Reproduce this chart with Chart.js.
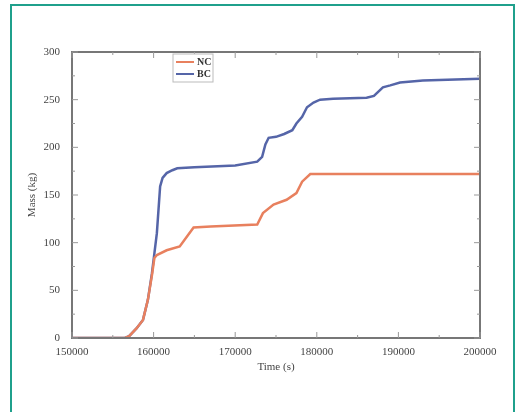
<!DOCTYPE html>
<html>
<head>
<meta charset="utf-8">
<script src="https://cdn.jsdelivr.net/npm/chart.js@4/dist/chart.umd.min.js"></script>
<style>
  html, body { margin: 0; padding: 0; background: #fff; }
  #frame {
    position: absolute; left: 10px; top: 4px; width: 505px; height: 420px;
    border: 2px solid #1fa08c; box-sizing: border-box;
  }
  #wrap { position: absolute; left: 0; top: 0; width: 523px; height: 412px; }
</style>
</head>
<body>
<div id="frame"></div>
<div id="wrap"><canvas id="chart" width="523" height="412"></canvas></div>
<script>
// time (s) and mass (kg)
const seriesNames = ['NC', 'BC'];

const bcTime = [150000, 156500, 157000, 157900, 158700, 159300, 159800, 160100, 160400, 160800, 161100, 161600, 162300, 162900, 165000, 170000, 172700, 173300, 173700, 174100, 175000, 176000, 177000, 177500, 178200, 178800, 179600, 180400, 182000, 186100, 187000, 188100, 189000, 190200, 193000, 196000, 200000];
const bcMass = [0, 0, 2, 10, 19, 40, 68, 89, 110, 159, 168, 173, 176, 178, 179, 181, 185, 190, 203, 210, 211, 214, 218, 225, 232, 242, 247, 250, 251, 252, 254, 263, 265, 268, 270, 271, 272];

const ncTime = [150000, 156500, 157000, 157900, 158700, 159300, 159800, 160100, 160400, 161600, 163200, 163800, 164900, 167000, 172700, 173400, 174700, 176300, 177500, 178200, 179200, 185000, 200000];
const ncMass = [0, 0, 2, 10, 19, 40, 66, 84, 87, 92, 96, 103, 116, 117, 119, 131, 140, 145, 152, 164, 172, 172, 172];

const xTicks = [150000, 160000, 170000, 180000, 190000, 200000];
const yTicks = [0, 50, 100, 150, 200, 250, 300];

const colors = ['#e8805e', '#5565a8'];

function pts(xs, ys) {
  return xs.map((x, i) => ({ x: x, y: ys[i] }));
}

// frame box, mirrored ticks and the legend box
const framePlugin = {
  id: 'framePlugin',
  afterDraw(chart) {
    const ctx = chart.ctx;
    const a = chart.chartArea;
    const xs = chart.scales.x, ys = chart.scales.y;
    ctx.save();
    ctx.strokeStyle = '#777';
    ctx.lineWidth = 2;
    ctx.strokeRect(a.left, a.top, a.right - a.left, a.bottom - a.top);
    ctx.lineWidth = 1;
    ctx.strokeStyle = '#999';
    for (let v = 150000; v <= 200000; v += 5000) {
      const p = xs.getPixelForValue(v);
      const len = v % 10000 === 0 ? 6 : 3;
      ctx.beginPath();
      ctx.moveTo(p, a.bottom); ctx.lineTo(p, a.bottom - len);
      ctx.moveTo(p, a.top); ctx.lineTo(p, a.top + len);
      ctx.stroke();
    }
    for (let v = 0; v <= 300; v += 25) {
      const p = ys.getPixelForValue(v);
      const len = v % 50 === 0 ? 6 : 3;
      ctx.beginPath();
      ctx.moveTo(a.left, p); ctx.lineTo(a.left + len, p);
      ctx.moveTo(a.right, p); ctx.lineTo(a.right - len, p);
      ctx.stroke();
    }
    // legend
    const lx = 173, ly = 54;
    ctx.fillStyle = '#fff';
    ctx.fillRect(lx, ly, 40, 28);
    ctx.strokeStyle = '#bbb';
    ctx.strokeRect(lx, ly, 40, 28);
    ctx.font = 'bold 10px "Liberation Serif", serif';
    ctx.textBaseline = 'middle';
    chart.data.datasets.forEach((ds, i) => {
      const y = ly + 8 + i * 12;
      ctx.strokeStyle = ds.borderColor;
      ctx.lineWidth = 2;
      ctx.beginPath();
      ctx.moveTo(lx + 3, y); ctx.lineTo(lx + 21, y);
      ctx.stroke();
      ctx.fillStyle = '#333';
      ctx.fillText(ds.label, lx + 24, y);
    });
    ctx.restore();
  }
};

new Chart(document.getElementById('chart'), {
  type: 'line',
  data: {
    datasets: [
      { label: seriesNames[0], data: pts(ncTime, ncMass), borderColor: colors[0], borderWidth: 2.5, pointRadius: 0, tension: 0 },
      { label: seriesNames[1], data: pts(bcTime, bcMass), borderColor: colors[1], borderWidth: 2.5, pointRadius: 0, tension: 0 }
    ]
  },
  options: {
    responsive: false,
    animation: false,
    layout: { padding: { left: 22, right: 43, top: 52, bottom: 34 } },
    plugins: { legend: { display: false }, tooltip: { enabled: false } },
    scales: {
      x: {
        type: 'linear',
        min: 150000, max: 200000,
        afterBuildTicks: s => { s.ticks = xTicks.map(v => ({ value: v })); },
        afterFit: s => { s.height = 40; },
        grid: { display: false },
        border: { display: false },
        ticks: {
          color: '#444', padding: 0, maxRotation: 0,
          font: { family: '"Liberation Serif", serif', size: 11 },
          callback: v => String(v)
        },
        title: { display: true, text: 'Time (s)', color: '#444', padding: { top: 1 },
          font: { family: '"Liberation Serif", serif', size: 11 } }
      },
      y: {
        min: 0, max: 300,
        afterBuildTicks: s => { s.ticks = yTicks.map(v => ({ value: v })); },
        afterFit: s => { s.width = 50; },
        grid: { display: false },
        border: { display: false },
        ticks: {
          color: '#444', padding: 4,
          font: { family: '"Liberation Serif", serif', size: 11 }
        },
        title: { display: true, text: 'Mass (kg)', color: '#444', padding: { bottom: 0 },
          font: { family: '"Liberation Serif", serif', size: 11 } }
      }
    }
  },
  plugins: [framePlugin]
});
</script>
</body>
</html>
